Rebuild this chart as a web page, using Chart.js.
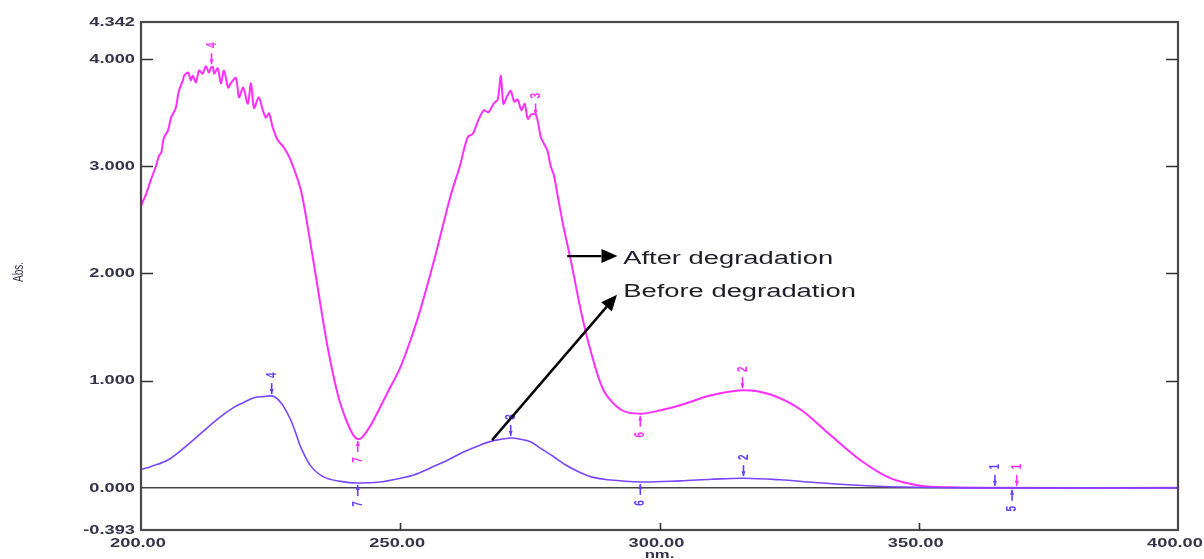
<!DOCTYPE html>
<html lang="en">
<head>
<meta charset="UTF-8">
<title>UV spectrum before / after degradation</title>
<style>
  body { margin: 0; background: #fff; }
  canvas { display: block; }
</style>
</head>
<body>
<canvas id="spectrum" width="1204" height="559"></canvas>

<script src="https://cdn.jsdelivr.net/npm/chart.js"></script>
<script>
// --- data ---
const afterNm = [200, 201, 201.9, 202.9, 203.5, 203.9, 204.4, 205.2, 205.8, 206.7, 207.3, 208.1, 208.3, 209.1, 209.6, 210.0, 210.6, 211.2, 211.9, 212.5, 213.1, 213.5, 213.9, 214.1, 214.8, 215.4, 216.0, 216.8, 217.3, 218.3, 218.9, 219.7, 220.6, 221.2, 221.8, 222.7, 223.5, 224.1, 224.7, 225.4, 226.4, 227.6, 228.9, 230.8, 232.2, 234.1, 236.0, 238.0, 239.5, 240.5, 241.2, 241.8, 242.5, 243.3, 244.5, 246, 248, 250, 252, 254, 256.8, 259.7, 261.5, 263.0, 264, 265, 266.1, 267, 268.0, 268.8, 269.4, 269.9, 270.6, 271.3, 272, 272.6, 273.4, 274, 274.6, 275.3, 276.1, 276.6, 277.1, 277.8, 278.4, 279, 279.6, 280.3, 281.5, 282.9, 284.8, 286.7, 289.2, 292.5, 296.3, 300, 304, 309.8, 316, 321.4, 327.2, 333, 338.7, 344.5, 350.3, 356, 365, 400];
const afterAbs = [2.63, 2.74, 2.87, 3.00, 3.10, 3.12, 3.26, 3.33, 3.45, 3.54, 3.70, 3.80, 3.84, 3.87, 3.80, 3.84, 3.78, 3.89, 3.86, 3.93, 3.87, 3.92, 3.92, 3.86, 3.91, 3.77, 3.89, 3.73, 3.77, 3.82, 3.64, 3.73, 3.58, 3.77, 3.54, 3.64, 3.52, 3.45, 3.49, 3.36, 3.24, 3.17, 3.05, 2.78, 2.42, 1.86, 1.31, 0.86, 0.64, 0.53, 0.475, 0.455, 0.465, 0.51, 0.60, 0.74, 0.93, 1.12, 1.38, 1.68, 2.17, 2.72, 3.00, 3.27, 3.30, 3.42, 3.52, 3.50, 3.58, 3.62, 3.84, 3.58, 3.65, 3.70, 3.60, 3.62, 3.52, 3.58, 3.44, 3.48, 3.48, 3.40, 3.27, 3.20, 3.14, 3.00, 2.92, 2.74, 2.43, 2.12, 1.66, 1.28, 0.91, 0.73, 0.69, 0.72, 0.77, 0.86, 0.91, 0.87, 0.73, 0.49, 0.26, 0.09, 0.02, 0.005, 0, 0];

const beforeNm = [200, 202, 205.2, 208, 211.6, 215, 217.9, 220, 221.8, 223.5, 225.4, 226.5, 227.6, 228.9, 230, 230.8, 232.8, 235.3, 238.5, 241.8, 246.2, 250.1, 252.6, 256, 259.2, 262, 265.5, 268, 271.3, 273, 275.1, 277, 279.6, 282, 284.8, 287, 290, 296.3, 304, 310, 316.2, 323.3, 330, 340, 350, 360, 400];
const beforeAbs = [0.17, 0.20, 0.26, 0.36, 0.51, 0.65, 0.75, 0.80, 0.84, 0.85, 0.855, 0.82, 0.75, 0.63, 0.49, 0.38, 0.20, 0.10, 0.06, 0.045, 0.055, 0.09, 0.12, 0.19, 0.26, 0.33, 0.40, 0.44, 0.465, 0.455, 0.43, 0.37, 0.29, 0.21, 0.14, 0.10, 0.075, 0.055, 0.065, 0.08, 0.09, 0.075, 0.05, 0.02, 0.005, 0, 0];

// peak picks (label, nm, abs, +1 = peak above / -1 = valley below)
const afterPickLabel = ['4', '7', '3', '6', '2', '1'];
const afterPickNm = [213.6, 241.8, 276.1, 296.3, 316, 368.9];
const afterPickAbs = [3.93, 0.455, 3.46, 0.69, 0.91, 0];
const afterPickSide = [1, -1, 1, -1, 1, 1];

const beforePickLabel = ['4', '7', '3', '6', '2', '1', '5'];
const beforePickNm = [225.2, 241.8, 271.3, 296.3, 316.2, 364.7, 368.0];
const beforePickAbs = [0.855, 0.045, 0.465, 0.055, 0.09, 0, 0];
const beforePickSide = [1, -1, 1, -1, 1, 1, -1];

const xTicks = [200, 250, 300, 350, 400];
const xTickText = ['200.00', '250.00', '300.00', '350.00', '400.00'];
const yTicks = [4.342, 4, 3, 2, 1, 0, -0.393];
const yTickText = ['4.342', '4.000', '3.000', '2.000', '1.000', '0.000', '-0.393'];

const PINK = '#ff2eff';
const BLUE = '#7b45ff';
const SX = 1.52;   // the scan is stretched sideways

function stretchText(ctx, text, x, y, rot) {
    ctx.save();
    ctx.translate(x, y);
    ctx.scale(SX, 1);
    if (rot) ctx.rotate(rot);
    ctx.fillText(text, 0, 0);
    ctx.restore();
}

function arrow(ctx, x1, y1, x2, y2) {
    const a = Math.atan2(y2 - y1, x2 - x1);
    const len = 16, hw = 7;
    const bx = x2 - len * Math.cos(a), by = y2 - len * Math.sin(a);
    ctx.beginPath();
    ctx.moveTo(x1, y1);
    ctx.lineTo(bx, by);
    ctx.stroke();
    ctx.beginPath();
    ctx.moveTo(x2, y2);
    ctx.lineTo(bx + hw * Math.sin(a), by - hw * Math.cos(a));
    ctx.lineTo(bx - hw * Math.sin(a), by + hw * Math.cos(a));
    ctx.closePath();
    ctx.fill();
}

function drawPicks(ctx, xs, ys, labels, nms, abss, sides, color) {
    ctx.strokeStyle = color;
    ctx.fillStyle = color;
    ctx.lineWidth = 1.6;
    ctx.font = 'bold 10px "Liberation Sans", Arial';
    ctx.textAlign = 'center';
    ctx.textBaseline = 'middle';
    for (let i = 0; i < labels.length; i++) {
        const px = xs.getPixelForValue(nms[i]);
        const py = ys.getPixelForValue(abss[i]);
        const s = sides[i];
        ctx.beginPath();
        ctx.moveTo(px, py - s * 2);
        ctx.lineTo(px, py - s * 13);
        ctx.stroke();
        ctx.beginPath();
        ctx.moveTo(px, py - s * 2);
        ctx.lineTo(px - 2, py - s * 7);
        ctx.lineTo(px + 2, py - s * 7);
        ctx.closePath();
        ctx.fill();
        stretchText(ctx, labels[i], px, py - s * 21, -Math.PI / 2);
    }
}

const decorations = {
    id: 'decorations',
    beforeDatasetsDraw(chart) {
        const { ctx, chartArea: a, scales: { x, y } } = chart;
        const y0 = y.getPixelForValue(0);
        ctx.save();
        ctx.strokeStyle = '#454545';
        ctx.lineWidth = 1.5;
        ctx.beginPath();
        ctx.moveTo(a.left, y0);
        ctx.lineTo(a.right, y0);
        ctx.stroke();
        ctx.restore();
    },
    afterDatasetsDraw(chart) {
        const { ctx, chartArea: a, scales: { x, y } } = chart;
        ctx.save();

        // frame
        ctx.strokeStyle = '#4a4a4a';
        ctx.lineWidth = 2.2;
        ctx.strokeRect(a.left, a.top, a.right - a.left, a.bottom - a.top);

        // inner ticks
        ctx.lineWidth = 1.6;
        ctx.strokeStyle = '#333';
        yTicks.forEach(v => {
            if (v <= 0 || v > 4.1) return;
            const py = Math.round(y.getPixelForValue(v)) + 0.5;
            ctx.beginPath();
            ctx.moveTo(a.left, py); ctx.lineTo(a.left + 12, py);
            ctx.moveTo(a.right, py); ctx.lineTo(a.right - 12, py);
            ctx.stroke();
        });
        xTicks.forEach(v => {
            if (v === 200 || v === 400) return;
            const px = Math.round(x.getPixelForValue(v)) + 0.5;
            ctx.beginPath();
            ctx.moveTo(px, a.bottom); ctx.lineTo(px, a.bottom - 7);
            ctx.stroke();
        });

        // tick labels
        ctx.fillStyle = '#34344a';
        ctx.font = 'bold 12px "Liberation Sans", Arial';
        ctx.textBaseline = 'middle';
        ctx.textAlign = 'right';
        yTicks.forEach((v, i) => {
            stretchText(ctx, yTickText[i], a.left - 6, y.getPixelForValue(v) + 0.5);
        });
        ctx.textAlign = 'center';
        ctx.textBaseline = 'alphabetic';
        xTicks.forEach((v, i) => {
            stretchText(ctx, xTickText[i], x.getPixelForValue(v) - 3, a.bottom + 17);
        });
        ctx.font = 'bold 11px "Liberation Sans", Arial';
        stretchText(ctx, 'nm.', x.getPixelForValue(300), a.bottom + 28);
        ctx.font = '10px "Liberation Sans", Arial';
        ctx.textBaseline = 'middle';
        stretchText(ctx, 'Abs.', 19, 272, -Math.PI / 2);

        // peak picks
        drawPicks(ctx, x, y, afterPickLabel, afterPickNm, afterPickAbs, afterPickSide, PINK);
        drawPicks(ctx, x, y, beforePickLabel, beforePickNm, beforePickAbs, beforePickSide, '#6a3cff');

        // annotations
        ctx.strokeStyle = '#000';
        ctx.fillStyle = '#000';
        ctx.lineWidth = 2.4;
        arrow(ctx, x.getPixelForValue(282.2), y.getPixelForValue(2.16), x.getPixelForValue(291.9), y.getPixelForValue(2.16));
        arrow(ctx, x.getPixelForValue(267.7), y.getPixelForValue(0.445), x.getPixelForValue(291.8), y.getPixelForValue(1.80));
        ctx.fillStyle = '#1e1e28';
        ctx.font = '18px "Liberation Sans", Arial';
        ctx.textAlign = 'left';
        ctx.textBaseline = 'alphabetic';
        stretchText(ctx, 'After degradation', x.getPixelForValue(293.0), y.getPixelForValue(2.09));
        stretchText(ctx, 'Before degradation', x.getPixelForValue(293.0), y.getPixelForValue(1.78));

        ctx.restore();
    }
};

new Chart(document.getElementById('spectrum'), {
    type: 'line',
    data: {
        datasets: [
            {
                label: 'Before degradation',
                data: beforeNm.map((v, i) => ({ x: v, y: beforeAbs[i] })),
                borderColor: BLUE,
                borderWidth: 1.6,
                pointRadius: 0,
                tension: 0.35
            },
            {
                label: 'After degradation',
                data: afterNm.map((v, i) => ({ x: v, y: afterAbs[i] })),
                borderColor: PINK,
                borderWidth: 2,
                pointRadius: 0,
                tension: 0.3
            }
        ]
    },
    options: {
        responsive: false,
        animation: false,
        devicePixelRatio: 1,
        layout: { padding: { left: 141, right: 26, top: 22, bottom: 29 } },
        plugins: { legend: { display: false }, tooltip: { enabled: false } },
        scales: {
            x: { type: 'linear', min: 200, max: 400, display: false },
            y: { type: 'linear', min: -0.393, max: 4.342, display: false }
        }
    },
    plugins: [decorations]
});
</script>
</body>
</html>
